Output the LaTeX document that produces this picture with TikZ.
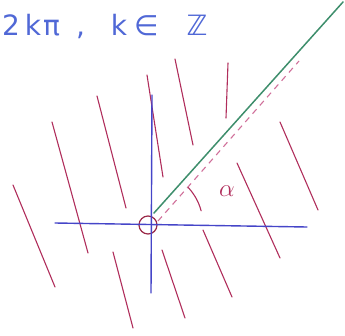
\documentclass[tikz,border=0pt]{standalone}
\usepackage{fontspec}
\newfontfamily\hand{DejaVu Sans}
\definecolor{hatch}{HTML}{B02E5C}
\definecolor{axisblue}{HTML}{4545C8}
\definecolor{textblue}{HTML}{5068D6}
\definecolor{raygreen}{HTML}{3E8E6C}
\definecolor{dashpink}{HTML}{D0709A}
\definecolor{ringred}{HTML}{9A2848}
\tikzset{
  hatchline/.style={draw=hatch, line width=1.1pt, line cap=round},
  axisline/.style={draw=axisblue, line width=1.4pt, line cap=round},
  rayline/.style={draw=raygreen, line width=1.5pt, line cap=round},
  dashline/.style={draw=dashpink, line width=1.1pt, dash pattern=on 6pt off 5pt},
  ring/.style={circle, draw=ringred, line width=1.2pt, minimum size=18pt, inner sep=0pt},
  label/.style={text=textblue, font=\hand\fontsize{28}{32}\selectfont, inner sep=0pt}
}
\begin{document}
\begin{tikzpicture}[x=1pt,y=-1pt]
\useasboundingbox (0,0) rectangle (345,335);
% title
\node[label, anchor=base west] (title) at (2,35) {2\hspace{5pt}k\hspace{2pt}π\hspace{16pt},\hspace{26pt}k\hspace{7pt}∈\hspace{28pt}ℤ};
% hatch lines
\draw[hatchline] (97,96) -- (126,208);
\draw[hatchline] (147,75) -- (163,177);
\draw[hatchline] (175,59) -- (193,145);
\draw[hatchline] (228,63) -- (226,118);
\draw[hatchline] (52,122) -- (88,253);
\draw[hatchline] (13,185) -- (55,287);
\draw[hatchline] (113,252) -- (133,328);
\draw[hatchline] (162,250) -- (185,318);
\draw[hatchline] (203,230) -- (232,297);
\draw[hatchline] (237,163) -- (280,258);
\draw[hatchline] (280,122) -- (318,210);
% axes
\coordinate (xl) at (55,223);
\coordinate (xr) at (307,227);
\coordinate (yt) at (152,95);
\coordinate (yb) at (151,293);
\node[ring] (O) at (148,225) {};
\draw[axisline] (xl) -- (xr);
\draw[axisline] (yt) -- (yb);
% ray and dashed
\coordinate (rs) at (154,213);
\coordinate (re) at (343,2);
\coordinate (ds) at (158,221);
\coordinate (de) at (299,61);
\draw[dashline] (ds) -- (de);
\draw[rayline] (rs) -- (re);
% angle arc
\draw[draw=hatch, line width=1.1pt, line cap=round] (O.center) ++(-43:55) arc[start angle=-43, end angle=-15, radius=55];
\node[text=hatch, font=\fontsize{32}{34}\selectfont, inner sep=0pt] (alpha) at (227,191) {$\alpha$};
\end{tikzpicture}
\end{document}
